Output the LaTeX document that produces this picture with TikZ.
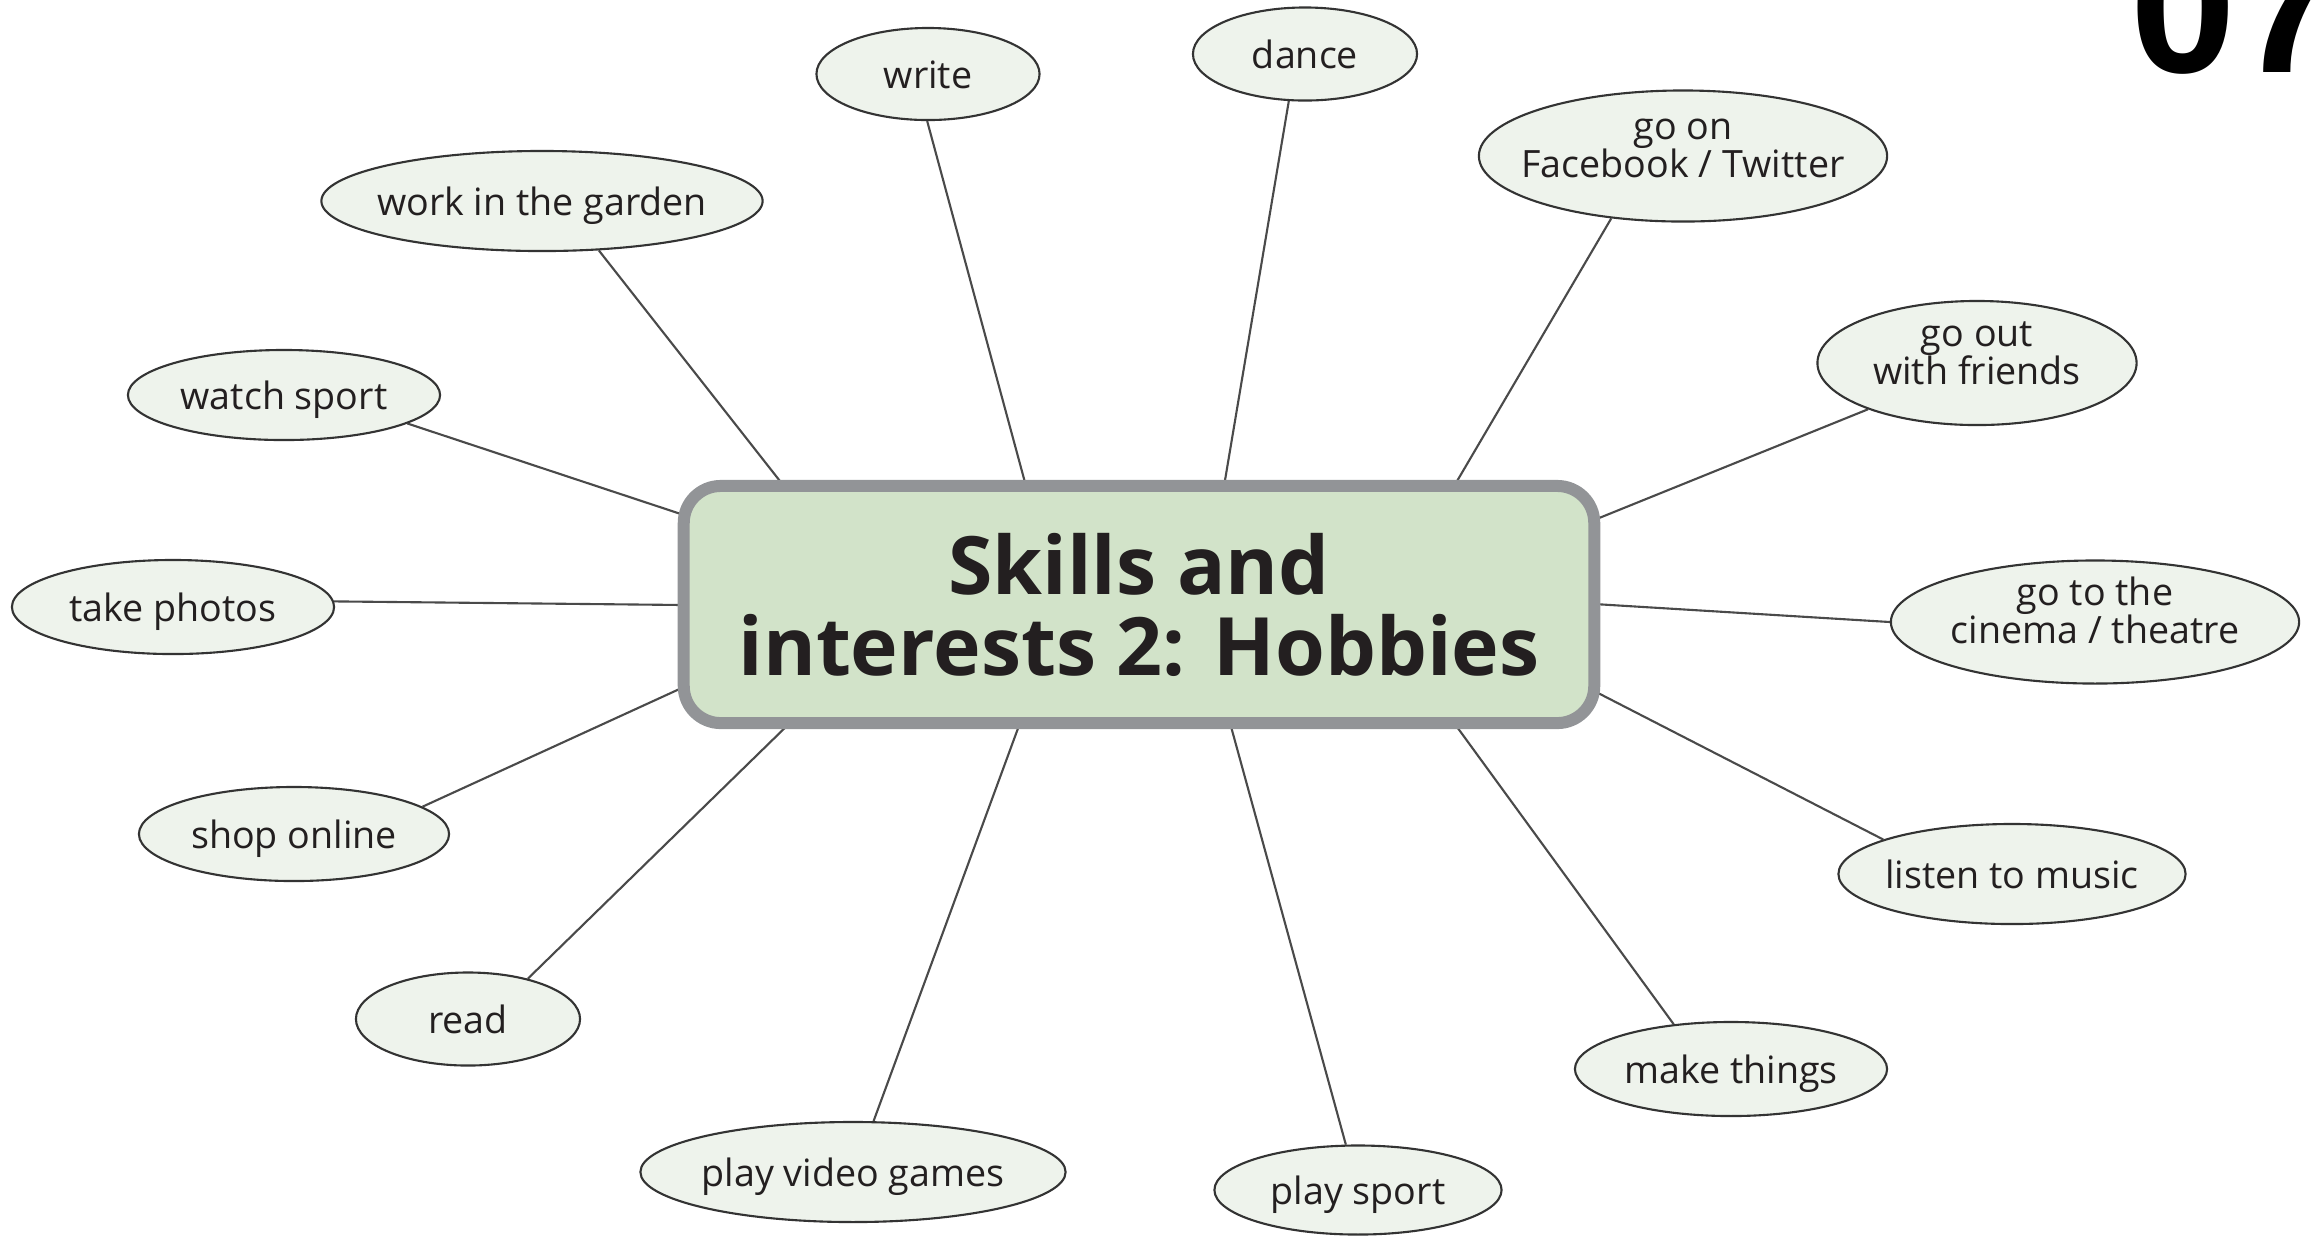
\documentclass[tikz,border=0pt]{standalone}
\usepackage{fontspec}
\setmainfont{Open Sans}
\newfontfamily\digitfont{Liberation Sans}
\usetikzlibrary{shapes.geometric,backgrounds}
\definecolor{boxfill}{HTML}{D2E3C9}
\definecolor{boxline}{HTML}{929497}
\definecolor{ellfill}{HTML}{EEF3EC}
\definecolor{ellline}{HTML}{333333}
\definecolor{connline}{HTML}{4A4A4A}
\definecolor{txt}{HTML}{231F20}
\tikzset{
  hobby/.style={ellipse, draw=ellline, fill=ellfill, line width=0.6pt,
    inner sep=-3cm, font=\fontsize{10.7}{10.8}\selectfont, text=txt},
  oneline/.style={text height=8pt, text depth=0pt},
  twoline/.style={align=center, text height=16pt, text depth=3.6pt},
  conn/.style={draw=connline, line width=0.6pt},
  hub/.style={rectangle, rounded corners=0.37cm, draw=boxline, fill=boxfill,
    line width=0.12cm, outer sep=0pt, inner sep=0pt, align=center,
    font=\fontsize{22.9}{23}\selectfont\bfseries, text=txt},
  unitnum/.style={anchor=base west, inner sep=0pt,
    font=\digitfont\fontsize{54}{54}\selectfont\bfseries, text=black}
}
\begin{document}
\begin{tikzpicture}[x=0.01cm, y=-0.01cm]
\useasboundingbox (0,0) rectangle (2315,1235);
\clip (0,0) rectangle (2315,1235);

\node[hub, minimum width=9.10cm, minimum height=2.37cm] (box) at (1139,604.5)
  {Skills and\\interests 2: Hobbies};

\node[hobby, oneline, minimum width=4.41cm, minimum height=1.00cm] (garden) at (542,201) {work in the garden};
\node[hobby, oneline, minimum width=2.23cm, minimum height=0.92cm] (write) at (928,74) {write};
\node[hobby, oneline, minimum width=2.24cm, minimum height=0.93cm] (dance) at (1305,54) {dance};
\node[hobby, twoline, minimum width=4.08cm, minimum height=1.31cm] (facebook) at (1683,156) {go on\\Facebook / Twitter};
\node[hobby, twoline, minimum width=3.19cm, minimum height=1.24cm] (friends) at (1977,363) {go out\\with friends};
\node[hobby, twoline, minimum width=4.08cm, minimum height=1.23cm] (cinema) at (2095,622) {go to the\\cinema / theatre};
\node[hobby, oneline, minimum width=3.47cm, minimum height=1.00cm] (music) at (2012,874) {listen to music};
\node[hobby, oneline, minimum width=3.12cm, minimum height=0.94cm] (make) at (1731,1069) {make things};
\node[hobby, oneline, minimum width=2.87cm, minimum height=0.89cm] (sport) at (1358,1190) {play sport};
\node[hobby, oneline, minimum width=4.25cm, minimum height=1.00cm] (video) at (853,1172) {play video games};
\node[hobby, oneline, minimum width=2.24cm, minimum height=0.93cm] (read) at (468,1019) {read};
\node[hobby, oneline, minimum width=3.10cm, minimum height=0.94cm] (shop) at (294,834) {shop online};
\node[hobby, oneline, minimum width=3.22cm, minimum height=0.94cm] (photos) at (173,607) {take photos};
\node[hobby, oneline, minimum width=3.12cm, minimum height=0.90cm] (watch) at (284,395) {watch sport};

\node[unitnum] (unit) at (2130,72) {07};

\begin{pgfonlayer}{background}
\draw[conn] (garden.-41.8) -- ([xshift=1.00cm]box.north west);
\draw[conn] (write.-91) -- ([xshift=3.42cm]box.north west);
\draw[conn] (dance.-109) -- ([xshift=5.40cm]box.north west);
\draw[conn] (facebook.-139.3) -- ([xshift=7.70cm]box.north west);
\draw[conn] (friends.-157.7) -- ([yshift=-0.34cm]box.north east);
\draw[conn] (cinema.180) -- ([yshift=-1.18cm]box.north east);
\draw[conn] (music.165.1) -- ([yshift=-2.05cm]box.north east);
\draw[conn] (make.142.8) -- ([xshift=7.70cm]box.south west);
\draw[conn] (sport.105.3) -- ([xshift=5.46cm]box.south west);
\draw[conn] (video.68.2) -- ([xshift=3.36cm]box.south west);
\draw[conn] (read.34) -- ([xshift=1.06cm]box.south west);
\draw[conn] (shop.12.9) -- ([yshift=-2.01cm]box.north west);
\draw[conn] (photos.2) -- ([yshift=-1.19cm]box.north west);
\draw[conn] (watch.-13.8) -- ([yshift=-0.29cm]box.north west);
\end{pgfonlayer}
\end{tikzpicture}
\end{document}
